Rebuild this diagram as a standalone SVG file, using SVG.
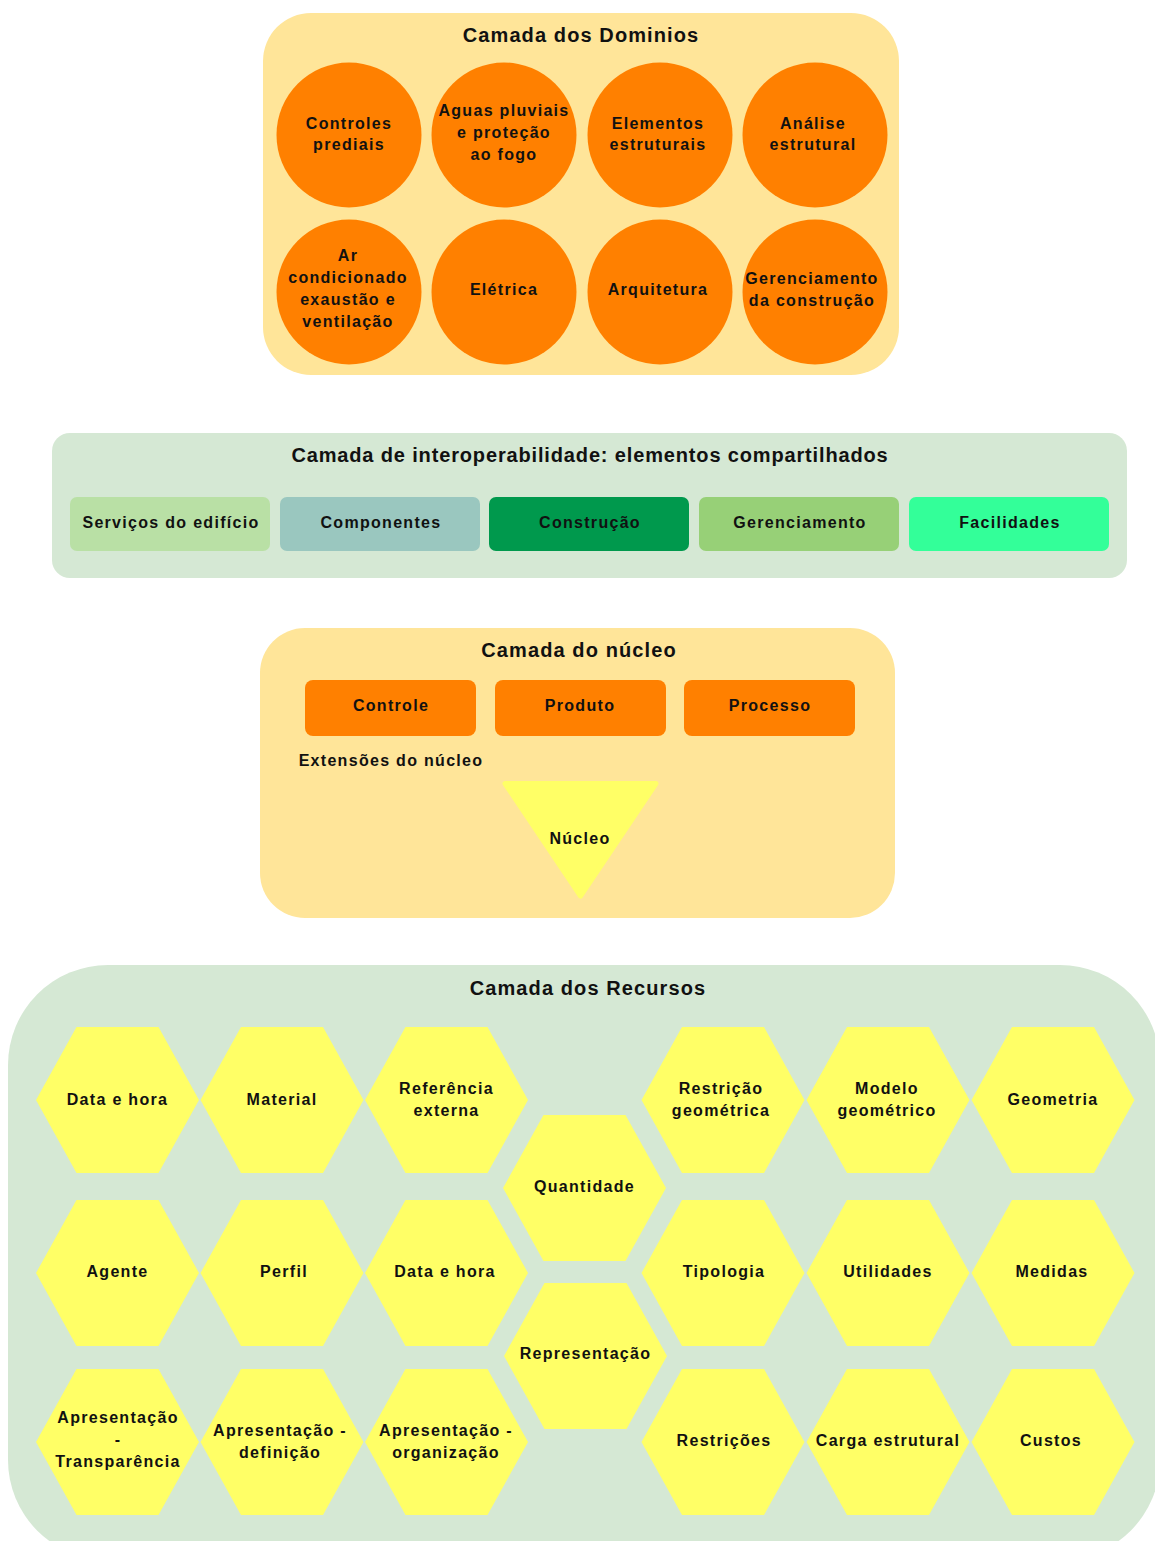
<svg xmlns="http://www.w3.org/2000/svg" xmlns:xlink="http://www.w3.org/1999/xlink" width="1155" height="1541" viewBox="0 0 1155 1541">
<style>
  text { font-family: "Liberation Sans", Arial, Helvetica, sans-serif; font-weight: bold; fill: #111; text-anchor: middle; }
  .title { font-size: 20px; letter-spacing: 1.1px; }
  .titleW { font-size: 20px; letter-spacing: 0.85px; }
  .lbl { font-size: 16px; letter-spacing: 1.3px; }
  .layerY { fill: #FFE599; }
  .layerG { fill: #D5E8D4; }
  .circ { fill: #FF8000; }
  .obox { fill: #FF8000; }
  .hexf { fill: #FFFF66; }
</style>
<defs>
  <polygon id="hex" points="-81.5,0 -41,-73 41,-73 81.5,0 41,73 -41,73"/>
</defs>
<rect width="1155" height="1541" fill="#FFFFFF"/>

<!-- Layer: Domínios -->
<g id="layer-dominios">
  <rect class="layerY" x="263" y="13" width="636" height="362" rx="48" ry="48"/>
  <text class="title" x="581" y="42">Camada dos Dominios</text>
</g>
<g id="dom-controles"><circle class="circ" cx="349" cy="135" r="72.5"/><text class="lbl" x="349" y="129">Controles</text><text class="lbl" x="349" y="150">prediais</text></g>
<g id="dom-aguas"><circle class="circ" cx="504" cy="135" r="72.5"/><text class="lbl" x="504" y="116">Aguas pluviais</text><text class="lbl" x="504" y="138">e proteção</text><text class="lbl" x="504" y="160">ao fogo</text></g>
<g id="dom-elementos"><circle class="circ" cx="660" cy="135" r="72.5"/><text class="lbl" x="658" y="129">Elementos</text><text class="lbl" x="658" y="150">estruturais</text></g>
<g id="dom-analise"><circle class="circ" cx="815" cy="135" r="72.5"/><text class="lbl" x="813" y="129">Análise</text><text class="lbl" x="813" y="150">estrutural</text></g>
<g id="dom-ar"><circle class="circ" cx="349" cy="292" r="72.5"/><text class="lbl" x="348" y="261">Ar</text><text class="lbl" x="348" y="283">condicionado</text><text class="lbl" x="348" y="305">exaustão e</text><text class="lbl" x="348" y="327">ventilação</text></g>
<g id="dom-eletrica"><circle class="circ" cx="504" cy="292" r="72.5"/><text class="lbl" x="504" y="295">Elétrica</text></g>
<g id="dom-arquitetura"><circle class="circ" cx="660" cy="292" r="72.5"/><text class="lbl" x="658" y="295">Arquitetura</text></g>
<g id="dom-gerenciamento"><circle class="circ" cx="815" cy="292" r="72.5"/><text class="lbl" x="812" y="284">Gerenciamento</text><text class="lbl" x="812" y="306">da construção</text></g>

<!-- Layer: Interoperabilidade -->
<g id="layer-interop">
  <rect class="layerG" x="52" y="433" width="1075" height="145" rx="18" ry="18"/>
  <text class="titleW" x="590" y="462">Camada de interoperabilidade: elementos compartilhados</text>
</g>
<g id="int-servicos"><rect x="70" y="497" width="200" height="54" rx="7" fill="#B9E0A5"/><text class="lbl" x="171" y="528">Serviços do edifício</text></g>
<g id="int-componentes"><rect x="280" y="497" width="200" height="54" rx="7" fill="#9AC7BF"/><text class="lbl" x="381" y="528">Componentes</text></g>
<g id="int-construcao"><rect x="489" y="497" width="200" height="54" rx="7" fill="#00994D"/><text class="lbl" x="590" y="528">Construção</text></g>
<g id="int-gerenciamento"><rect x="699" y="497" width="200" height="54" rx="7" fill="#97D077"/><text class="lbl" x="800" y="528">Gerenciamento</text></g>
<g id="int-facilidades"><rect x="909" y="497" width="200" height="54" rx="7" fill="#33FF99"/><text class="lbl" x="1010" y="528">Facilidades</text></g>

<!-- Layer: Núcleo -->
<g id="layer-nucleo">
  <rect class="layerY" x="260" y="628" width="635" height="290" rx="45" ry="45"/>
  <text class="title" x="579" y="657">Camada do núcleo</text>
  <text class="lbl" x="391" y="766">Extensões do núcleo</text>
</g>
<g id="nuc-controle"><rect class="obox" x="305" y="680" width="171" height="56" rx="8"/><text class="lbl" x="391" y="711">Controle</text></g>
<g id="nuc-produto"><rect class="obox" x="495" y="680" width="171" height="56" rx="8"/><text class="lbl" x="580" y="711">Produto</text></g>
<g id="nuc-processo"><rect class="obox" x="684" y="680" width="171" height="56" rx="8"/><text class="lbl" x="770" y="711">Processo</text></g>
<g id="nuc-nucleo"><polygon points="505,783.5 656,783.5 580.5,896" fill="#FFFF66" stroke="#FFFF66" stroke-width="5" stroke-linejoin="round"/><text class="lbl" x="580" y="844">Núcleo</text></g>

<!-- Layer: Recursos -->
<g id="layer-recursos">
  <rect class="layerG" x="8" y="965" width="1152" height="595" rx="100" ry="100"/>
  <text class="title" x="588" y="995">Camada dos Recursos</text>
</g>
<g id="res-datahora1"><use xlink:href="#hex" href="#hex" class="hexf" x="117.5" y="1100"/><text class="lbl" x="117.5" y="1105">Data e hora</text></g>
<g id="res-material"><use xlink:href="#hex" href="#hex" class="hexf" x="282" y="1100"/><text class="lbl" x="282" y="1105">Material</text></g>
<g id="res-referencia"><use xlink:href="#hex" href="#hex" class="hexf" x="446.5" y="1100"/><text class="lbl" x="446.5" y="1094">Referência</text><text class="lbl" x="446.5" y="1116">externa</text></g>
<g id="res-quantidade"><use xlink:href="#hex" href="#hex" class="hexf" x="584.5" y="1188"/><text class="lbl" x="584.5" y="1192">Quantidade</text></g>
<g id="res-restricao-geo"><use xlink:href="#hex" href="#hex" class="hexf" x="723" y="1100"/><text class="lbl" x="721" y="1094">Restrição</text><text class="lbl" x="721" y="1116">geométrica</text></g>
<g id="res-modelo-geo"><use xlink:href="#hex" href="#hex" class="hexf" x="888" y="1100"/><text class="lbl" x="887" y="1094">Modelo</text><text class="lbl" x="887" y="1116">geométrico</text></g>
<g id="res-geometria"><use xlink:href="#hex" href="#hex" class="hexf" x="1053" y="1100"/><text class="lbl" x="1053" y="1105">Geometria</text></g>

<g id="res-agente"><use xlink:href="#hex" href="#hex" class="hexf" x="117.5" y="1273"/><text class="lbl" x="117.5" y="1277">Agente</text></g>
<g id="res-perfil"><use xlink:href="#hex" href="#hex" class="hexf" x="282" y="1273"/><text class="lbl" x="284" y="1277">Perfil</text></g>
<g id="res-datahora2"><use xlink:href="#hex" href="#hex" class="hexf" x="446.5" y="1273"/><text class="lbl" x="445" y="1277">Data e hora</text></g>
<g id="res-representacao"><use xlink:href="#hex" href="#hex" class="hexf" x="585.5" y="1356"/><text class="lbl" x="585.5" y="1359">Representação</text></g>
<g id="res-tipologia"><use xlink:href="#hex" href="#hex" class="hexf" x="723" y="1273"/><text class="lbl" x="724" y="1277">Tipologia</text></g>
<g id="res-utilidades"><use xlink:href="#hex" href="#hex" class="hexf" x="888" y="1273"/><text class="lbl" x="888" y="1277">Utilidades</text></g>
<g id="res-medidas"><use xlink:href="#hex" href="#hex" class="hexf" x="1053" y="1273"/><text class="lbl" x="1052" y="1277">Medidas</text></g>

<g id="res-apres-transp"><use xlink:href="#hex" href="#hex" class="hexf" x="117.5" y="1442"/><text class="lbl" x="118" y="1423">Apresentação</text><text class="lbl" x="118" y="1445">-</text><text class="lbl" x="118" y="1467">Transparência</text></g>
<g id="res-apres-def"><use xlink:href="#hex" href="#hex" class="hexf" x="282" y="1442"/><text class="lbl" x="280" y="1436">Apresentação -</text><text class="lbl" x="280" y="1458">definição</text></g>
<g id="res-apres-org"><use xlink:href="#hex" href="#hex" class="hexf" x="446.5" y="1442"/><text class="lbl" x="446" y="1436">Apresentação -</text><text class="lbl" x="446" y="1458">organização</text></g>
<g id="res-restricoes"><use xlink:href="#hex" href="#hex" class="hexf" x="723" y="1442"/><text class="lbl" x="724" y="1446">Restrições</text></g>
<g id="res-carga"><use xlink:href="#hex" href="#hex" class="hexf" x="888" y="1442"/><text class="lbl" x="888" y="1446">Carga estrutural</text></g>
<g id="res-custos"><use xlink:href="#hex" href="#hex" class="hexf" x="1053" y="1442"/><text class="lbl" x="1051" y="1446">Custos</text></g>

<g id="connectors"></g>
</svg>
